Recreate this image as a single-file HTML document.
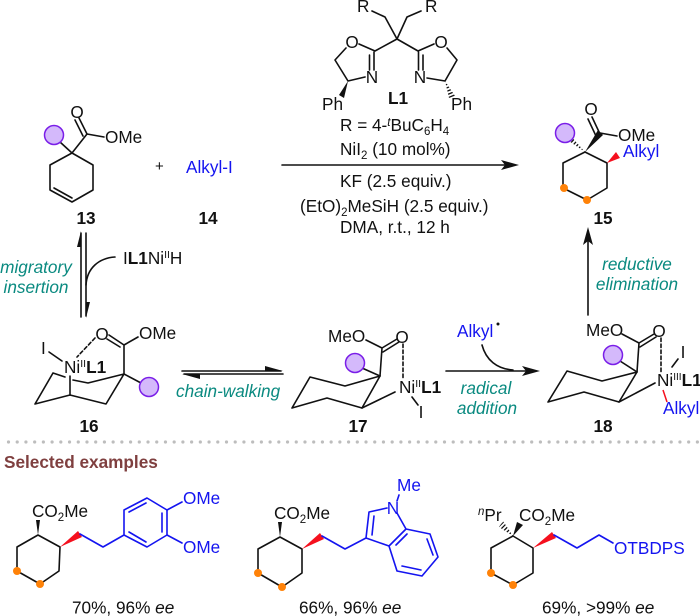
<!DOCTYPE html>
<html><head><meta charset="utf-8"><style>
html,body{margin:0;padding:0;background:#fff}
svg{display:block;filter:blur(0.3px)}
text{font-family:"Liberation Sans",sans-serif;font-size:17.2px;fill:#111}
.b{font-weight:bold}.i{font-style:italic}
.m{text-anchor:middle}
.u{fill:#1414f0}
.t{fill:#0a8a80;font-style:italic}
.k{fill:none;stroke:#111;stroke-width:1.6;stroke-linejoin:round;stroke-linecap:round}
.bl{fill:none;stroke:#1414f0;stroke-width:1.6;stroke-linejoin:round;stroke-linecap:round}
.c{fill:#d4b9fb;stroke:#7a1ee8;stroke-width:1.5}
.o{fill:#ff8208}
.r{fill:#f5101e}
.f{fill:#111}
</style></head><body>
<svg width="700" height="616" viewBox="0 0 700 616" xmlns="http://www.w3.org/2000/svg">
<defs>
<clipPath id="h1"><polygon points="585,152 566,139 569,134"/></clipPath>
<clipPath id="h2"><polygon points="445,81 449,98 455,96"/></clipPath>
<clipPath id="h3"><polygon points="513,536 499,527 503,521"/></clipPath>
</defs>

<!-- 13 -->
<path class="k" d="M72,153 L50,165 L50,190 L72,202 L93,190 L93,165 Z"/>
<path class="k" d="M54,188 L72,198"/>
<path class="k" d="M72,153 L87,134 L104,137"/>
<path class="k" d="M87,134 L79,118 M83,136 L75,120"/>
<line class="k" x1="72" y1="153" x2="60" y2="142"/>
<circle class="c" cx="54" cy="135" r="9.5"/>
<text class="m" x="77" y="118">O</text>
<text x="105" y="143">OMe</text>
<text class="m b" x="86" y="224">13</text>
<text x="155" y="171" style="font-size:15px">+</text>
<text class="u" x="186" y="173">Alkyl-I</text>
<text class="m b" x="208" y="224">14</text>

<!-- Ligand -->
<path class="k" d="M372,11 L385,17 L397,39 L407,17 L421,11"/>
<text x="357" y="12">R</text><text x="425" y="12">R</text>
<path class="k" d="M397,39 L375,51 L359,44 M346,48 L335,60 L348,81 L365,77"/>
<path class="k" d="M397,39 L418,51 L434,44 M447,48 L457,60 L445,81 L427,78"/>
<path class="k" d="M374,52 L374,70 M369.5,55 L369.5,70 M418.5,52 L418.5,70 M423,55 L423,70"/>
<polygon class="f" points="348,81 339,95 344,98"/>
<g clip-path="url(#h2)"><line x1="445" y1="81" x2="452" y2="98" stroke="#111" stroke-width="9" stroke-dasharray="1.3 1.9"/></g>
<text class="m" x="352" y="48">O</text><text class="m" x="441" y="48">O</text>
<text class="m" x="372" y="83">N</text><text class="m" x="420" y="83">N</text>
<text x="322" y="110">Ph</text><text x="451" y="110">Ph</text>
<text class="m b" x="398" y="104">L1</text>
<text x="340" y="131">R = 4-<tspan class="i" dy="-5" font-size="11.5">t</tspan><tspan dy="5">BuC</tspan><tspan dy="4" font-size="11.5">6</tspan><tspan dy="-4">H</tspan><tspan dy="4" font-size="11.5">4</tspan></text>
<text x="340" y="155">NiI<tspan dy="4" font-size="11.5">2</tspan><tspan dy="-4"> (10 mol%)</tspan></text>
<text x="340" y="187">KF (2.5 equiv.)</text>
<text x="300" y="212">(EtO)<tspan dy="4" font-size="11.5">2</tspan><tspan dy="-4">MeSiH (2.5 equiv.)</tspan></text>
<text x="340" y="233">DMA, r.t., 12 h</text>
<line class="k" x1="282" y1="165" x2="506" y2="165"/>
<polygon class="f" points="519,165 501,160 505,165 501,170"/>

<!-- 15 -->
<path class="k" d="M585,152 L563,163 L563,188 L587,200 L607,188 L607,163 Z"/>
<polygon class="f" points="585,152 598,130 603,135"/>
<path class="k" d="M600,133 L617,136 M600,134 L592,117 M596,136 L588,119"/>
<polygon class="r" points="607,163 616,152 620,158"/>
<g clip-path="url(#h1)"><line x1="585" y1="152" x2="567" y2="136" stroke="#111" stroke-width="9" stroke-dasharray="1.3 1.9"/></g>
<circle class="c" cx="565" cy="133" r="9.5"/>
<circle class="o" cx="564" cy="188" r="4"/><circle class="o" cx="587" cy="200" r="4"/>
<text class="m" x="591" y="115">O</text>
<text x="618" y="141">OMe</text>
<text class="u" x="623" y="157">Alkyl</text>
<text class="m b" x="603" y="224">15</text>

<!-- eq arrows 13/16 -->
<path class="k" d="M81,317 L81,233"/>
<polygon class="f" points="81,231 81,247 77,247"/>
<path class="k" d="M86,233 L86,316"/>
<polygon class="f" points="86,318 86,302 90,302"/>
<path class="k" d="M115,257 C99,258 87,268 86,285"/>
<text class="t m" x="36" y="273">migratory</text>
<text class="t m" x="36" y="293">insertion</text>
<text x="123" y="264">I<tspan class="b">L1</tspan>Ni<tspan dy="-6" font-size="10.5">II</tspan><tspan dy="6">H</tspan></text>

<!-- 16 -->
<path class="k" d="M65,377 L53,373 L35,404 L70,395 L106,404 L124,374 L88,383 L73,380"/>
<path class="k" d="M70,395 L70,376"/>
<path class="k" d="M124,374 L124,345 L138,337 M124,345 L109,335 M120,347 L107,339 M124,374 L141,383"/>
<line class="k" x1="49" y1="352" x2="62" y2="361"/>
<line class="k" x1="95" y1="338" x2="77" y2="357" stroke-dasharray="3.5 2.5"/>
<circle class="c" cx="149" cy="387" r="9.5"/>
<text class="m" x="102" y="340">O</text>
<text x="139" y="339">OMe</text>
<text x="41" y="354">I</text>
<text x="64" y="373">Ni<tspan dy="-6" font-size="10.5">II</tspan><tspan class="b" dy="6">L1</tspan></text>
<text class="m b" x="89" y="432">16</text>

<!-- chain walking -->
<path class="k" d="M182,371 L281,371"/>
<polygon class="f" points="283,371 265,371 265,366"/>
<path class="k" d="M184,374 L283,374"/>
<polygon class="f" points="182,374 200,374 200,379"/>
<text class="t" x="176" y="397">chain-walking</text>

<!-- 17 -->
<path class="k" d="M292,408 L310,377 L345,386 L380,376 L362,408 L327,398 Z"/>
<path class="k" d="M380,376 L382,348 L366,340 M382,348 L397,339 M383,352 L399,342"/>
<path class="k" d="M362,408 L395,392 M412,397 L418,405"/>
<line class="k" x1="403" y1="344" x2="403" y2="378" stroke-dasharray="3.5 2.5"/>
<line class="k" x1="380" y1="376" x2="362" y2="368"/>
<circle class="c" cx="355" cy="363" r="9.5"/>
<text x="328" y="342">MeO</text>
<text class="m" x="402" y="343">O</text>
<text x="399" y="393">Ni<tspan dy="-6" font-size="10.5">II</tspan><tspan class="b" dy="6">L1</tspan></text>
<text class="m" x="421" y="418">I</text>
<text class="m b" x="358" y="432">17</text>

<!-- radical -->
<line class="k" x1="446" y1="371" x2="526" y2="371"/>
<polygon class="f" points="540,371 522,366 526,371 522,376"/>
<path class="k" d="M482,345 C486,360 497,369 513,370"/>
<text class="u" x="457" y="337">Alkyl</text>
<circle class="f" cx="498" cy="324" r="1.5"/>
<text class="t m" x="486" y="394">radical</text>
<text class="t m" x="487" y="414">addition</text>

<!-- reductive -->
<line class="k" x1="588" y1="315" x2="588" y2="240"/>
<polygon class="f" points="588,227 583,245 588,241 593,245"/>
<text class="t m" x="637" y="270">reductive</text>
<text class="t m" x="637" y="290">elimination</text>

<!-- 18 -->
<path class="k" d="M548,402 L567,371 L602,381 L637,372 L619,402 L584,392 Z"/>
<path class="k" d="M637,372 L639,343 L622,334 M639,343 L654,334 M640,347 L656,337"/>
<path class="k" d="M619,402 L655,383 M672,367 L678,359"/>
<line class="k" x1="661" y1="338" x2="661" y2="372" stroke-dasharray="3.5 2.5"/>
<line class="k" x1="637" y1="372" x2="620" y2="361"/>
<line x1="663" y1="390" x2="667" y2="402" stroke="#f5101e" stroke-width="1.5"/>
<circle class="c" cx="613" cy="355" r="9.5"/>
<text x="586" y="336">MeO</text>
<text class="m" x="659" y="337">O</text>
<text x="657" y="386">Ni<tspan dy="-6" font-size="10">III</tspan><tspan class="b" dy="6">L1</tspan></text>
<text class="m" x="683" y="358">I</text>
<text class="u" x="663" y="414">Alkyl</text>
<text class="m b" x="603" y="432">18</text>

<!-- divider -->
<line x1="8.5" y1="442" x2="700" y2="442" stroke="#bdbdbd" stroke-width="3.2" stroke-linecap="round" stroke-dasharray="0 8.72"/>
<text class="b" x="4" y="468" style="font-size:17.2px;fill:#7f3f3f">Selected examples</text>

<!-- Example 1 -->
<path class="k" d="M38,535 L17,547 L17,571 L40,584 L59,571 L60,547 Z"/>
<polygon class="f" points="38,535 36,520 40,520"/>
<polygon class="r" points="60,547 78,531 82,537"/>
<path class="bl" d="M80,534 L103,547 L124,535 L124,510 L147,498 L167,510 L167,535 L147,547 L124,535"/>
<path class="bl" d="M129,512 L146,503 M162,513 L162,532 M129,532 L146,542 M167,510 L182,502 M167,535 L182,543"/>
<circle class="o" cx="17" cy="571" r="4"/><circle class="o" cx="40" cy="584" r="4"/>
<text x="32" y="517">CO<tspan dy="4" font-size="11.5">2</tspan><tspan dy="-4">Me</tspan></text>
<text class="u" x="183" y="504">OMe</text>
<text class="u" x="183" y="553">OMe</text>
<text x="72" y="613.5">70%, 96% <tspan class="i">ee</tspan></text>

<!-- Example 2 -->
<path class="k" d="M280,537 L258,549 L258,573 L282,587 L302,573 L302,549 Z"/>
<polygon class="f" points="280,537 278,522 282,522"/>
<polygon class="r" points="302,549 320,533 324,539"/>
<path class="bl" d="M322,536 L345,549 L366,538 L369,512 L387,508 M397,513 L406,529 L389,546 L366,538 M389,546 L397,571 L422,576 L438,557 L430,534 L406,529"/>
<path class="bl" d="M372,535 L374,516 M396,545 L407,534 M427,539 L433,555 M402,566 L421,570 M397,501 L399,495"/>
<circle class="o" cx="258" cy="573" r="4"/><circle class="o" cx="282" cy="587" r="4"/>
<text x="274" y="519">CO<tspan dy="4" font-size="11.5">2</tspan><tspan dy="-4">Me</tspan></text>
<text class="u m" x="393" y="514">N</text>
<text class="u" x="397" y="491">Me</text>
<text x="299" y="613.5">66%, 96% <tspan class="i">ee</tspan></text>

<!-- Example 3 -->
<path class="k" d="M513,536 L491,548 L491,573 L513,585 L533,573 L533,548 Z"/>
<polygon class="f" points="513,536 517,522 523,525"/>
<g clip-path="url(#h3)"><line x1="513" y1="536" x2="501" y2="524" stroke="#111" stroke-width="9" stroke-dasharray="1.3 1.9"/></g>
<polygon class="r" points="533,548 552,532 556,538"/>
<path class="bl" d="M554,535 L577,548 L599,535 L613,543"/>
<circle class="o" cx="491" cy="573" r="4"/><circle class="o" cx="513" cy="585" r="4"/>
<text x="478" y="521"><tspan class="i" dy="-6" font-size="11.5">n</tspan><tspan dy="6">Pr</tspan></text>
<text x="519" y="521">CO<tspan dy="4" font-size="11.5">2</tspan><tspan dy="-4">Me</tspan></text>
<text class="u" x="614" y="554">OTBDPS</text>
<text x="542" y="613.5">69%, &gt;99% <tspan class="i">ee</tspan></text>
</svg>
</body></html>
